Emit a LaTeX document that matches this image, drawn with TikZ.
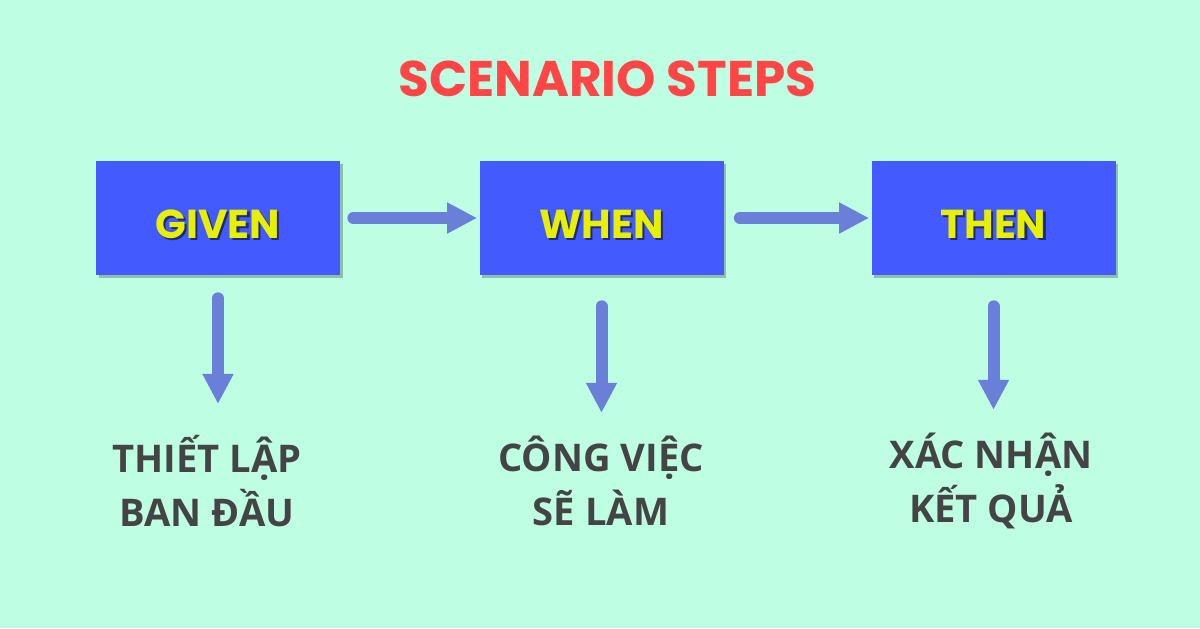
\documentclass[tikz,border=0pt]{standalone}
\usepackage{fontspec}
\setmainfont{Open Sans}
\newfontfamily\roundfont{Poppins}
\usetikzlibrary{arrows.meta,shadows,positioning}
\definecolor{mintbg}{HTML}{BEFFE3}
\definecolor{stepblue}{HTML}{425AFF}
\definecolor{labelyellow}{HTML}{E6F000}
\definecolor{titlered}{HTML}{FF4545}
\definecolor{arrowblue}{HTML}{6A80D8}
\definecolor{textgray}{HTML}{444444}
\tikzset{
  >={Triangle[width=0.58cm,length=0.6cm]},
  stepbox/.style={rectangle, fill=stepblue, minimum width=4.88cm, minimum height=2.28cm,
                  drop shadow={shadow xshift=0.05cm, shadow yshift=-0.07cm, opacity=0.25, fill=black}},
  steplabel/.style={font=\roundfont\bfseries\fontsize{23}{23}\selectfont, text=labelyellow},
  result/.style={align=center, font=\bfseries\fontsize{21.7}{30.7}\selectfont, text=textgray}
}
\tikzstyle{line} = [draw=arrowblue, line width=0.24cm, line cap=round, ->]
\newcommand{\shadowed}[1]{\leavevmode\rlap{\kern1.2pt\raisebox{-1.2pt}{\textcolor{black!55!stepblue}{#1}}}#1}

\begin{document}
\begin{tikzpicture}
  \useasboundingbox [fill=mintbg] (0,0) rectangle (24,12.56);

  % Title
  \node (title) [font=\roundfont\bfseries\fontsize{28.5}{28.5}\selectfont, text=titlered] at (12.15,10.98) {SCENARIO STEPS};

  % Draw step boxes
  \node (p1) [stepbox] at (4.36,8.20) {};
  \node (p2) [stepbox] at (12.03,8.20) {};
  \node (p3) [stepbox] at (19.87,8.20) {};
  \node [steplabel] at ([yshift=-0.14cm]p1) {\shadowed{GIVEN}};
  \node [steplabel] at ([yshift=-0.14cm]p2) {\shadowed{WHEN}};
  \node [steplabel] at ([yshift=-0.14cm]p3) {\shadowed{THEN}};

  % Draw results below the steps
  \node (t1) [result] at (4.14,2.94) {THIẾT LẬP\\BAN ĐẦU};
  \node (t2) [result] at (12.02,2.94) {CÔNG VIỆC\\SẼ LÀM};
  \node (t3) [result] at (19.82,2.94) {XÁC NHẬN\\KẾT QUẢ};

  % Draw arrows between elements
  \path [line, shorten <=0.26cm, shorten >=0.04cm] (p1) -- (p2);
  \path [line, shorten <=0.32cm, shorten >=0.04cm] (p2) -- (p3);
  \path [line, shorten <=0.46cm, shorten >=0.5cm] (p1.south) -- (p1.south |- t1.north);
  \path [line, shorten <=0.62cm, shorten >=0.34cm] (p2.south) -- (p2.south |- t2.north);
  \path [line, shorten <=0.62cm, shorten >=0.34cm] (p3.south) -- (p3.south |- t3.north);
\end{tikzpicture}
\end{document}
